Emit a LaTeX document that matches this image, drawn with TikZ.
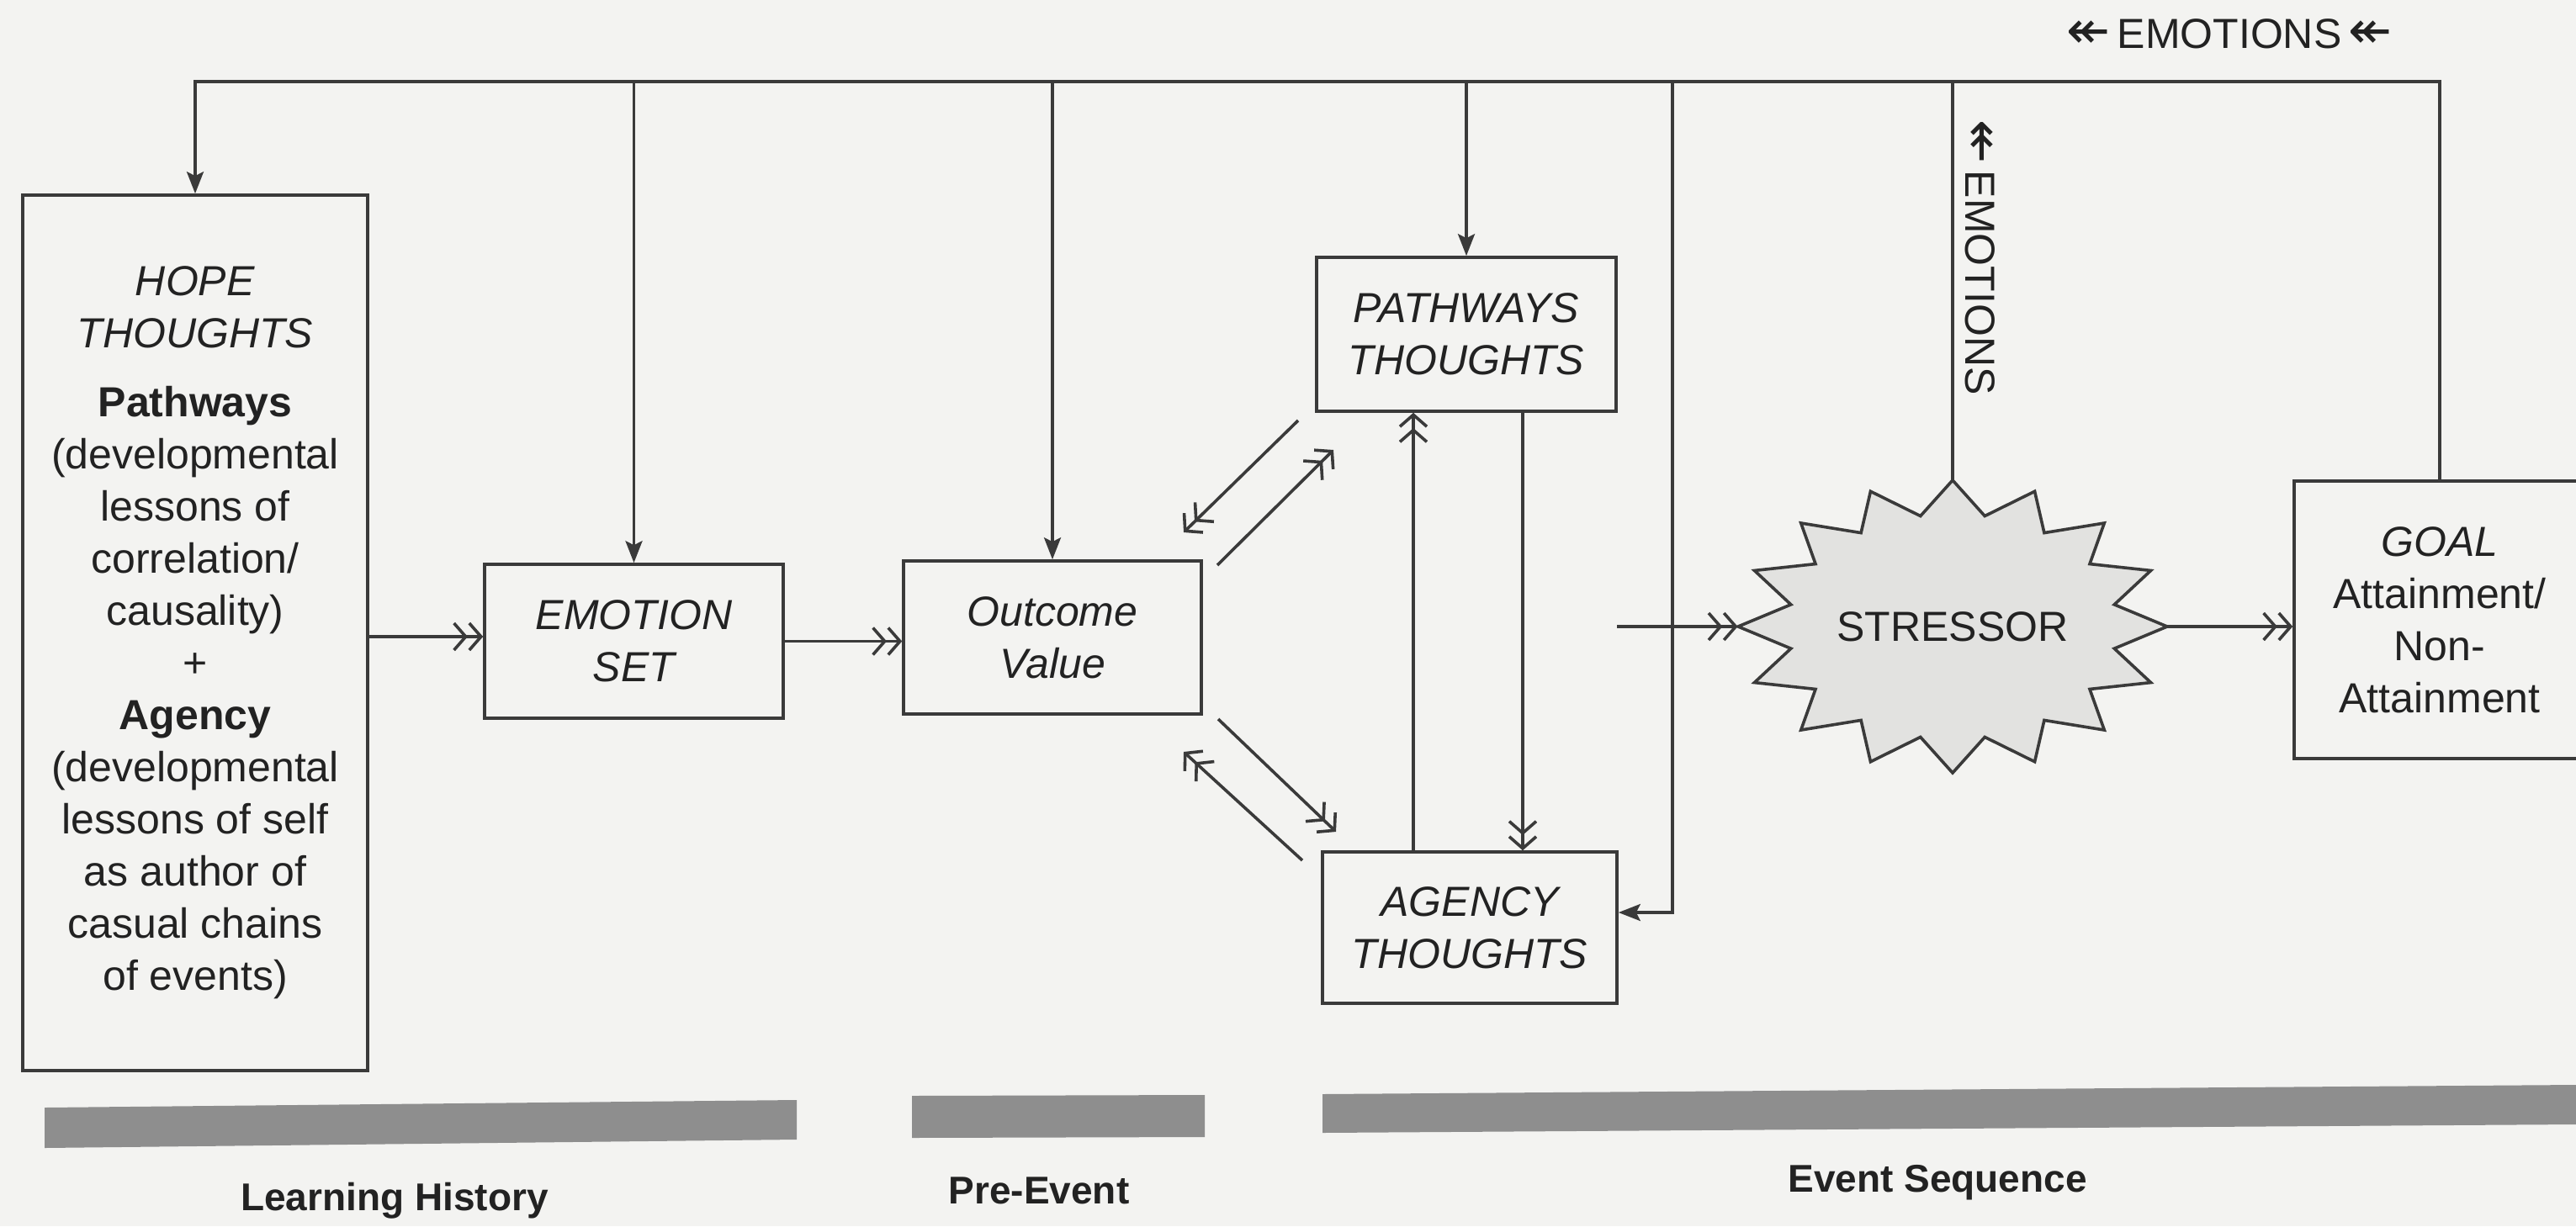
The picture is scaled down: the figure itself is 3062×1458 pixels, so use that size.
\documentclass[tikz,border=0pt]{standalone}
\usepackage{fontspec}
\setmainfont{Liberation Sans}
\newfontfamily\dej{DejaVu Sans}
\usetikzlibrary{arrows.meta,shapes.geometric}
\definecolor{paper}{HTML}{F3F3F1}
\definecolor{linec}{HTML}{3A3A3A}
\definecolor{txt}{HTML}{222222}
\definecolor{barc}{HTML}{8E8E8E}
\definecolor{starfill}{HTML}{E2E2E0}
\newcommand{\larr}{{\dej\fontsize{31}{31}\selectfont ↞}}
\tikzset{
  ln/.style={draw=linec, line width=1.8pt},
  box/.style={draw=linec, line width=1.8pt, align=center, inner sep=0pt, text=txt,
    font=\fontsize{25}{31}\selectfont},
  ibox/.style={box, font=\fontsize{25}{31}\selectfont\itshape},
  dbl/.style={ln, -{Straight Barb[length=7pt,width=16pt] Straight Barb[length=7pt,width=16pt]}},
  fil/.style={ln, -{Stealth[length=13pt,width=10pt,inset=2.5pt]}},
  lbl/.style={text=txt, font=\fontsize{25}{31}\selectfont, inner sep=0pt},
  phase/.style={text=txt, font=\fontsize{23}{28}\selectfont\bfseries, inner sep=0pt},
}
\begin{document}
\begin{tikzpicture}[x=0.5pt,y=-0.5pt]
\clip (0,0) rectangle (3062,1458);
\fill[paper] (0,0) rectangle (3062,1458);

% boxes
\node[box, minimum width=205pt, minimum height=520.5pt] (hope) at (232,752.5)
  {\textit{HOPE}\\\textit{THOUGHTS}\\[10pt]\textbf{Pathways}\\(developmental\\lessons of\\correlation/\\causality)\\+\\\textbf{Agency}\\(developmental\\lessons of self\\as author of\\casual chains\\of events)};
\node[ibox, minimum width=177.5pt, minimum height=91.5pt] (es) at (753.5,762.5) {EMOTION\\SET};
\node[ibox, minimum width=177pt, minimum height=91pt] (outcome) at (1251,758) {Outcome\\Value};
\node[ibox, minimum width=178pt, minimum height=91.5pt] (pathways) at (1743,397.5) {PATHWAYS\\THOUGHTS};
\node[ibox, minimum width=175pt, minimum height=90pt] (agency) at (1747,1103) {AGENCY\\THOUGHTS};
\node[box, minimum width=173pt, minimum height=165pt] (goal) at (2900,737)
  {\textit{GOAL}\\Attainment/\\Non-\\Attainment};

% stressor starburst
\coordinate (sc) at (2321,745);
\begin{scope}[shift={(sc)}]
\draw[ln, fill=starfill] (255,0) \foreach \i in {1,...,31}{
  -- ({(mod(\i,2)==0 ? 255 : 196)*cos(\i*11.25)}, {(mod(\i,2)==0 ? 174 : 134)*sin(\i*11.25)}) } -- cycle;
\end{scope}
\node[ellipse, minimum width=255pt, minimum height=174pt, inner sep=0pt, text=txt,
  font=\fontsize{25}{31}\selectfont] (stressor) at (sc) {STRESSOR};

% helper coordinates
\coordinate (topy) at (0,97);
\coordinate (br) at (1988,97);
\coordinate (xup) at (1680,0);
\coordinate (xdn) at (1810,0);
\coordinate (yh) at (0,757);
\coordinate (ss) at (1922,745);
\coordinate (d1s) at (1543,500); \coordinate (d1e) at (1407,633);
\coordinate (d2s) at (1447,672); \coordinate (d2e) at (1585,535);
\coordinate (d3s) at (1448,855); \coordinate (d3e) at (1588,989);
\coordinate (d4s) at (1548,1023); \coordinate (d4e) at (1407,894);

% feedback line along the top
\draw[fil] (goal.north) -- (goal.north |- topy) -- (hope.north |- topy) -- (hope.north);
\draw[fil] (es.north |- topy) -- (es.north);
\draw[fil] (outcome.north |- topy) -- (outcome.north);
\draw[fil] (pathways.north |- topy) -- (pathways.north);
\draw[fil] (br) |- ([yshift=9pt]agency.east);
\draw[ln] (stressor.north) -- (stressor.north |- topy);

% main flow
\draw[dbl] (hope.east |- yh) -- (es.west |- yh);
\draw[dbl] (es.east) -- (outcome.west |- es.east);
\draw[dbl] (ss) -- (stressor.west);
\draw[dbl] (stressor.east) -- (goal.west |- stressor.east);

% pathways / agency loop
\draw[dbl] (agency.north -| xup) -- (pathways.south -| xup);
\draw[dbl] (pathways.south -| xdn) -- (agency.north -| xdn);
\draw[dbl] (d1s) -- (d1e);
\draw[dbl] (d2s) -- (d2e);
\draw[dbl] (d3s) -- (d3e);
\draw[dbl] (d4s) -- (d4e);

% emotions labels
\node[lbl] (emoTop) at (2650,40) {\larr\,EMOTIONS\,\larr};
\node[lbl, rotate=-90] (emoSide) at (2354,306) {\larr\,EMOTIONS};

% phase bars
\fill[barc] (53,1317) -- (947,1308) -- (947,1355) -- (53,1365) -- cycle;
\fill[barc] (1084,1303) -- (1432,1302) -- (1432,1352) -- (1084,1353) -- cycle;
\fill[barc] (1572,1301) -- (3062,1290) -- (3062,1337) -- (1572,1347) -- cycle;
\node[phase] (ph1) at (469,1428) {Learning History};
\node[phase] (ph2) at (1235,1416) {Pre-Event};
\node[phase] (ph3) at (2303,1406) {Event Sequence};
\end{tikzpicture}
\end{document}
